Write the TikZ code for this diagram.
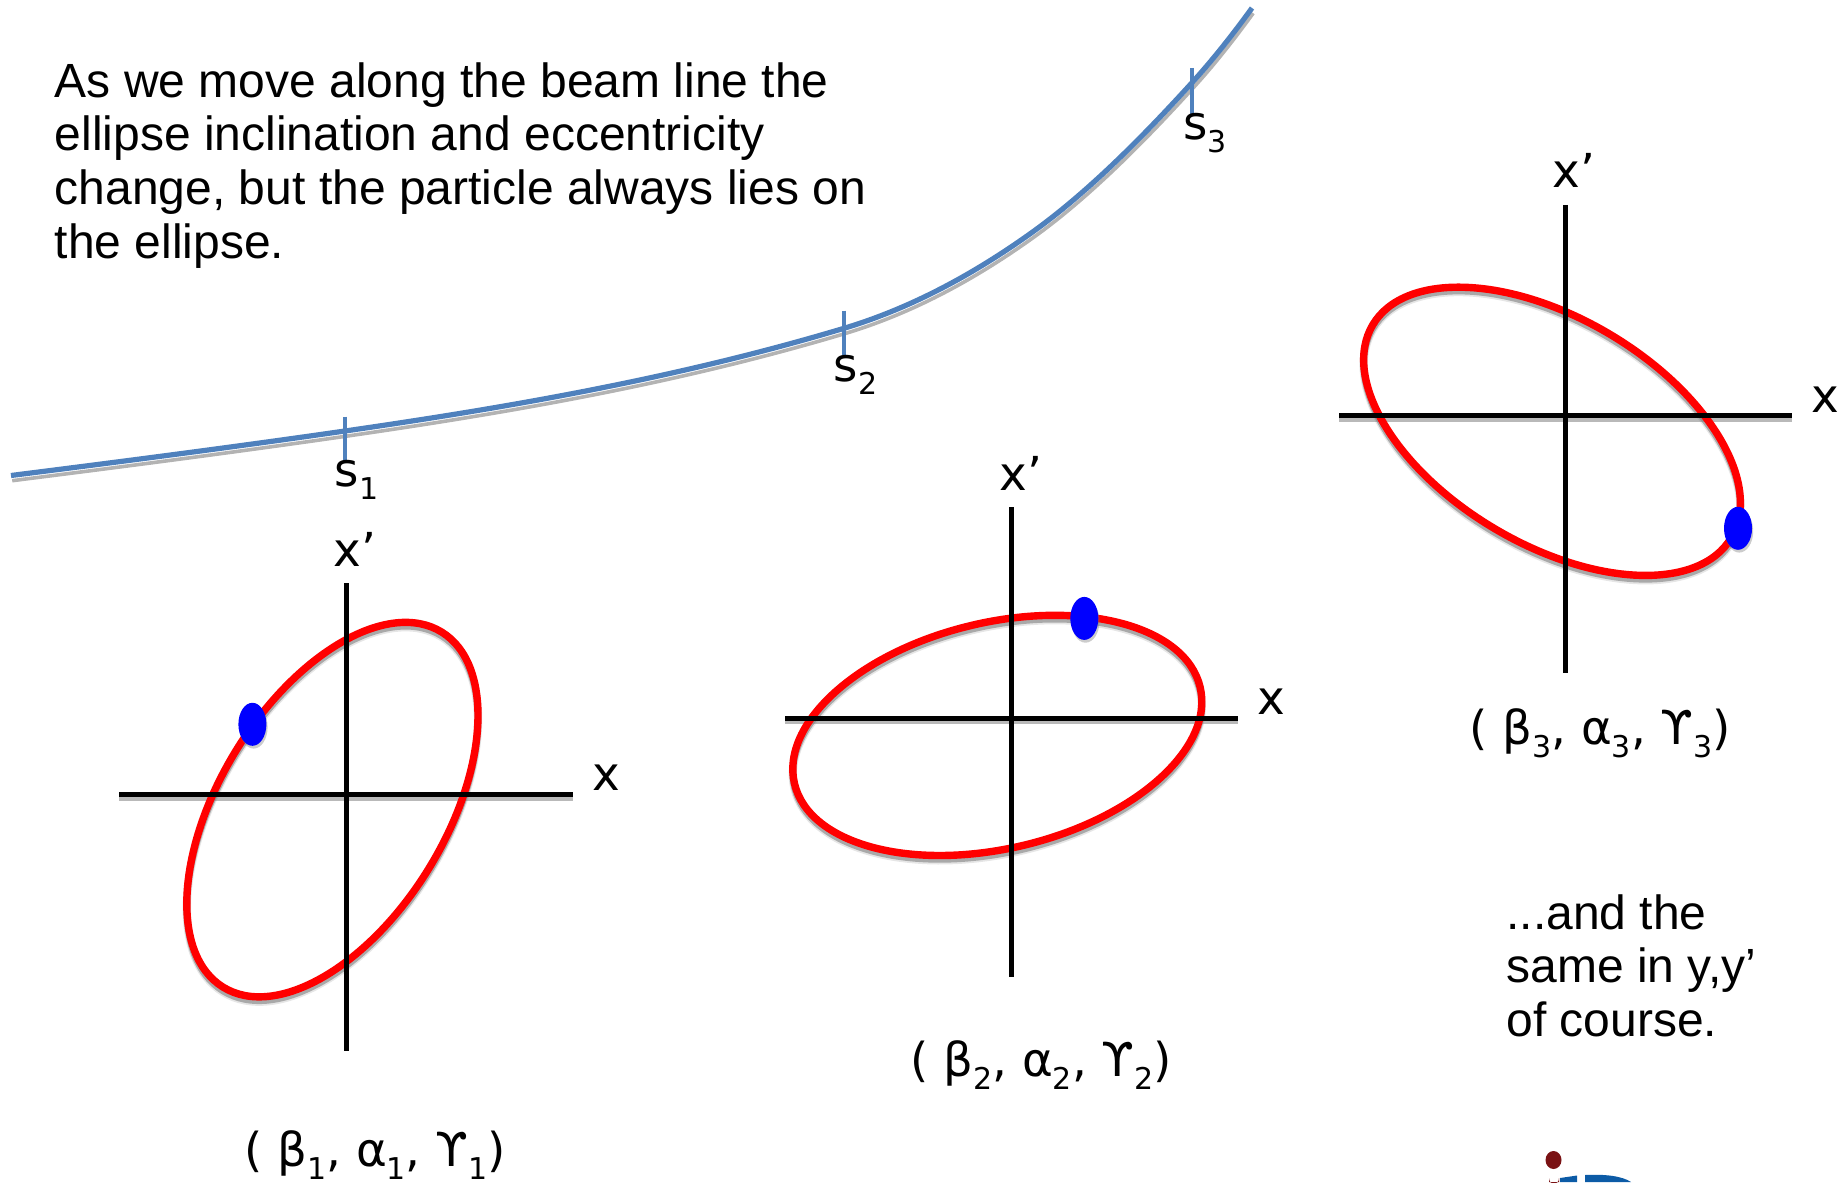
\documentclass[tikz,border=0pt]{standalone}
\usepackage{fontspec}
\setmainfont{Liberation Sans}
\newfontfamily\lab{DejaVu Sans}
\newcommand{\sbs}[1]{\raisebox{-0.28em}{\fontsize{15}{15}\selectfont #1}}
\newcommand{\tup}[1]{( β\sbs{#1}, α\sbs{#1}, ϒ\sbs{#1})}
\definecolor{beam}{HTML}{4F81BD}
\definecolor{logored}{HTML}{7A1214}
\definecolor{logoblue}{HTML}{0C5BA6}
\tikzset{
  body/.style={font=\fontsize{24}{26.9}\selectfont,align=left,anchor=north west,inner sep=0pt},
  lbl/.style={font=\lab\fontsize{23.4}{26}\selectfont,inner sep=0pt},
  axis/.style={black,line width=2.5pt},
  orbit/.style={red,line width=3.7pt},
  orbitsh/.style={gray,opacity=.6,line width=3.4pt,yshift=-1.9pt},
  orbitsh2/.style={gray,opacity=.2,line width=4.2pt,yshift=-2.4pt},
  axsh/.style={gray,opacity=.55,line width=2.5pt,yshift=-1.8pt},
  track/.style={beam,line width=2.6pt},
  tracksh/.style={gray,opacity=.6,line width=1.8pt,yshift=-2.6pt,xshift=.6pt},
  tick/.style={beam,line width=2.4pt},
  dot/.style={fill=blue,draw=none},
  dotsh/.style={fill=gray,opacity=.4,draw=none,xshift=.6pt,yshift=-1.4pt}
}
\begin{document}
\begin{tikzpicture}[x=0.5pt,y=-0.5pt]
\useasboundingbox (0,0) rectangle (1845,1182);
% beam line
\def\beampath{(11,475.5) .. controls (122,461.5) and (234,447) .. (345,431)
  .. controls (511,407) and (678,378) .. (844,328.3)
  .. controls (907,309.4) and (970,277) .. (1033,231.7)
  .. controls (1086,193.5) and (1139,141) .. (1191.7,83)
  .. controls (1211.8,61) and (1232,35.6) .. (1252,8)}
\draw[tracksh] \beampath;
\draw[track] \beampath;
\coordinate (t1a) at (345,416.5); \coordinate (t1b) at (345,462);
\coordinate (t2a) at (844,310.5); \coordinate (t2b) at (844,355);
\coordinate (t3a) at (1192,68);   \coordinate (t3b) at (1192,114);
\draw[tick] (t1a) -- (t1b);
\draw[tick] (t2a) -- (t2b);
\draw[tick] (t3a) -- (t3b);
\node[lbl] (s1) at (356.5,480) {s\sbs{1}};
\node[lbl] (s2) at (855.5,375) {s\sbs{2}};
\node[lbl] (s3) at (1205,133) {s\sbs{3}};
% text
\node[body] (intro) at (54.5,62) {As we move along the beam line the\\ellipse inclination and eccentricity\\change, but the particle always lies on\\the ellipse.};
\node[body] (same) at (1506,894) {...and the\\same in y,y’\\of course.};
% ellipse shadows
\foreach \cx/\cy/\ang in {332.4/809.6/58.4, 997.3/735.4/13.4, 1552/431.3/-30.7}{
  \draw[orbitsh2,shift={(\cx,\cy)},rotate=\ang] (0,0) ellipse [x radius=208.5,y radius=113];
  \draw[orbitsh,shift={(\cx,\cy)},rotate=\ang] (0,0) ellipse [x radius=208.5,y radius=113];
}
% diagram 1
\draw[axsh] (119,794.5) -- (573,794.5);
\draw[orbit,shift={(332.4,809.6)},rotate=58.4] (0,0) ellipse [x radius=208.5,y radius=113];
\draw[axis] (119,794.5) -- (573,794.5);
\draw[axis] (346,583) -- (346,1051);
\fill[dotsh] (252.4,724.3) ellipse [x radius=14,y radius=21.5];
\fill[dot] (252.4,724.3) ellipse [x radius=14,y radius=21.5];
\node[lbl] (xp1) at (355,549) {x’};
\node[lbl] (x1) at (606,778) {x};
\node[lbl] (t1) at (375,1155) {\tup{1}};
% diagram 2
\draw[axsh] (785,718) -- (1238,718);
\draw[orbit,shift={(997.3,735.4)},rotate=13.4] (0,0) ellipse [x radius=208.5,y radius=113];
\draw[axis] (785,718) -- (1238,718);
\draw[axis] (1011,507) -- (1011,977);
\fill[dotsh] (1084.3,618.4) ellipse [x radius=14,y radius=21.5];
\fill[dot] (1084.3,618.4) ellipse [x radius=14,y radius=21.5];
\node[lbl] (xp2) at (1021,473) {x’};
\node[lbl] (x2) at (1271,702) {x};
\node[lbl] (t2) at (1041,1065) {\tup{2}};
% diagram 3
\draw[axsh] (1339,415.5) -- (1792,415.5);
\draw[orbit,shift={(1552,431.3)},rotate=-30.7] (0,0) ellipse [x radius=208.5,y radius=113];
\draw[axis] (1339,415.5) -- (1792,415.5);
\draw[axis] (1565,205) -- (1565,673);
\fill[dotsh] (1738,528.3) ellipse [x radius=14,y radius=21.5];
\fill[dot] (1738,528.3) ellipse [x radius=14,y radius=21.5];
\node[lbl] (xp3) at (1574,170) {x’};
\node[lbl] (x3) at (1825,400) {x};
\node[lbl] (t3) at (1600,733) {\tup{3}};
% logo fragment at the lower edge
\begin{scope}
\clip (0,0) rectangle (1845,1182);
\fill[logored] (1553.5,1160) ellipse [x radius=8,y radius=9];
\fill[logored] (1549,1182) -- (1549,1178) arc[start angle=180,end angle=0,x radius=5,y radius=6] -- (1559,1182) -- cycle;
\fill[logoblue] (1560,1182) -- (1560,1178) -- (1577,1175.5) -- (1577,1182) -- cycle;
\fill[logoblue] (1585,1182) -- (1585,1175) .. controls (1605,1174) and (1622,1176) .. (1631,1182) -- cycle;
\end{scope}
\end{tikzpicture}
\end{document}
